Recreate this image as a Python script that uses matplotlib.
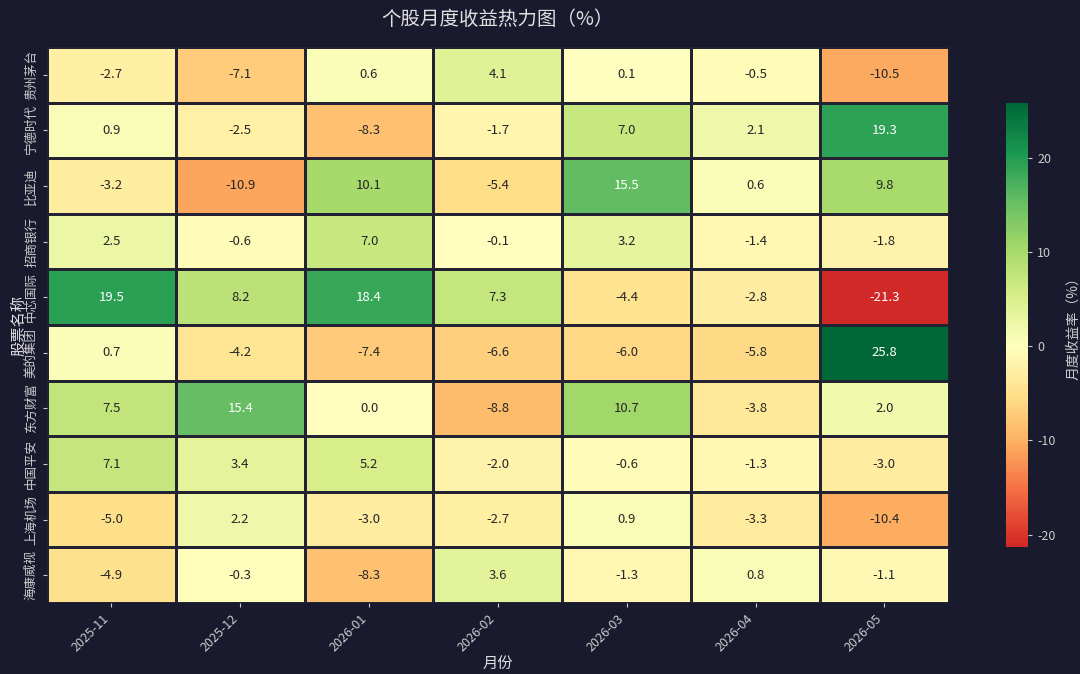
import numpy as np
import pandas as pd
import matplotlib
matplotlib.use("Agg")
import matplotlib.pyplot as plt
import seaborn as sns

BG = "#1a1a2e"
FG = "#e0e0e0"

stocks = ["贵州茅台", "宁德时代", "比亚迪", "招商银行", "中芯国际",
          "美的集团", "东方财富", "中国平安", "上海机场", "海康威视"]
months = ["2025-11", "2025-12", "2026-01", "2026-02", "2026-03", "2026-04", "2026-05"]

r_maotai = [-2.7, -7.1, 0.6, 4.1, 0.1, -0.5, -10.5]
r_ningde = [0.9, -2.5, -8.3, -1.7, 7.0, 2.1, 19.3]
r_byd = [-3.2, -10.9, 10.1, -5.4, 15.5, 0.6, 9.8]
r_zhaoshang = [2.5, -0.6, 7.0, -0.1, 3.2, -1.4, -1.8]
r_smic = [19.5, 8.2, 18.4, 7.3, -4.4, -2.8, -21.3]
r_midea = [0.7, -4.2, -7.4, -6.6, -6.0, -5.8, 25.8]
r_dfcf = [7.5, 15.4, 0.0, -8.8, 10.7, -3.8, 2.0]
r_pingan = [7.1, 3.4, 5.2, -2.0, -0.6, -1.3, -3.0]
r_shjc = [-5.0, 2.2, -3.0, -2.7, 0.9, -3.3, -10.4]
r_hik = [-4.9, -0.3, -8.3, 3.6, -1.3, 0.8, -1.1]

df = pd.DataFrame(
    [r_maotai, r_ningde, r_byd, r_zhaoshang, r_smic,
     r_midea, r_dfcf, r_pingan, r_shjc, r_hik],
    index=stocks, columns=months,
)

plt.rcParams["font.family"] = ["Noto Sans CJK SC", "DejaVu Sans"]
plt.rcParams["axes.unicode_minus"] = False

fig = plt.figure(figsize=(10.8, 6.74), dpi=100, facecolor=BG)
ax = fig.add_axes([0.0435, 0.1053, 0.835, 0.825])
cax = fig.add_axes([0.9315, 0.1884, 0.0204, 0.6588])
ax.set_facecolor(BG)

sns.heatmap(
    df, ax=ax, cbar_ax=cax, cmap="RdYlGn", center=0, annot=True, fmt=".1f",
    linewidths=1.0, linecolor="#222233", annot_kws={"fontsize": 9.5},
)

ax.set_title("个股月度收益热力图（%）", color=FG, fontsize=14, pad=16)
ax.set_xlabel("月份", color=FG, fontsize=11, labelpad=1)
ax.set_ylabel("股票名称", color=FG, fontsize=11)
ax.yaxis.set_label_coords(-0.022, 0.5)

ax.set_xticklabels(months, rotation=45, ha="right", color="#cccccc", fontsize=9)
ax.set_yticklabels(stocks, rotation=90, va="center", color="#cccccc", fontsize=9)
ax.tick_params(colors="#cccccc", length=3)

cax.tick_params(colors="#cccccc", labelsize=9, length=3)
for lab in cax.get_yticklabels():
    lab.set_color("#cccccc")
cax.set_ylabel("月度收益率（%）", color="#cccccc", fontsize=10, labelpad=8)

fig.savefig("out.png", dpi=100, facecolor=BG)
